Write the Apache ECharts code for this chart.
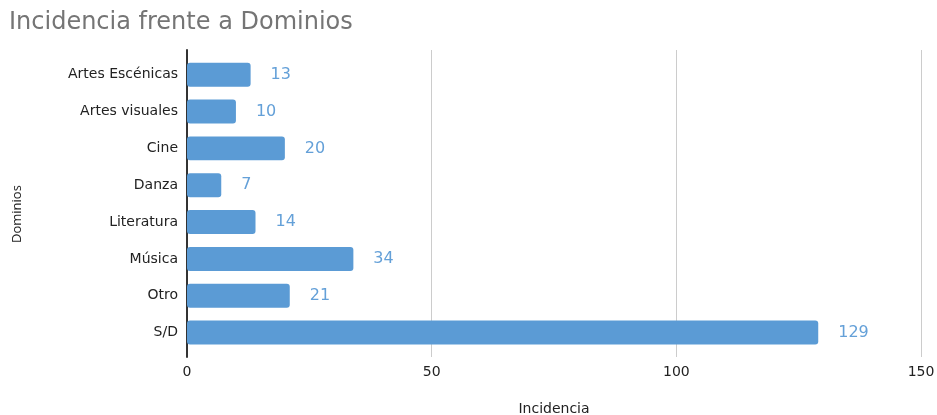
<!DOCTYPE html>
<html>
<head>
<meta charset="utf-8">
<script src="https://cdn.jsdelivr.net/npm/echarts@6/dist/echarts.min.js"></script>
<style>html,body{margin:0;padding:0;background:#fff}#c{width:937px;height:415px}</style>
</head>
<body>
<div id="c"></div>
<script>
const title = "Incidencia frente a Dominios";
const categories = ["Artes Escénicas", "Artes visuales", "Cine", "Danza", "Literatura", "Música", "Otro", "S/D"];
const values = [13, 10, 20, 7, 14, 34, 21, 129];
const xTicks = [0, 50, 100, 150];
const xName = "Incidencia";
const yName = "Dominios";

const FONT = "DejaVu Sans";
const chart = echarts.init(document.getElementById('c'));
chart.setOption({
  animation: false,
  title: {
    text: title, left: 4, top: 6,
    textStyle: { fontFamily: FONT, fontSize: 24, fontWeight: 'normal', color: '#757575' }
  },
  graphic: [{
    type: 'text',
    x: 11, y: 243, rotation: Math.PI / 2,
    style: { text: yName, font: '13px "Open Sans"', fill: '#222', textAlign: 'left', textVerticalAlign: 'top' }
  }],
  grid: [
    { left: 187, right: 16, top: 50, bottom: 58, outerBoundsMode: 'none', containLabel: false },
    { left: 187, right: 16, top: 56.3, bottom: 64, outerBoundsMode: 'none', containLabel: false }
  ],
  xAxis: [
    {
      gridIndex: 0, type: 'value', min: xTicks[0], max: xTicks[xTicks.length - 1], interval: 50,
      axisLine: { show: false }, axisTick: { show: false },
      axisLabel: { fontFamily: FONT, fontSize: 14, color: '#222', margin: 8 },
      splitLine: { lineStyle: { color: '#cccccc', width: 1 } },
      name: xName, nameLocation: 'middle', nameGap: 45,
      nameTextStyle: { fontFamily: FONT, fontSize: 14, color: '#222' }
    },
    {
      gridIndex: 1, type: 'value', min: xTicks[0], max: xTicks[xTicks.length - 1], interval: 50,
      show: false
    }
  ],
  yAxis: [
    {
      gridIndex: 0, type: 'category', data: categories, inverse: true,
      axisLine: { show: true, lineStyle: { color: '#333', width: 2 } },
      axisTick: { show: false }, axisLabel: { show: false }, splitLine: { show: false }
    },
    {
      gridIndex: 1, type: 'category', data: categories, inverse: true,
      axisLine: { show: false }, axisTick: { show: false },
      axisLabel: { fontFamily: FONT, fontSize: 14, color: '#222', margin: 9 }
    }
  ],
  series: [{
    type: 'bar', xAxisIndex: 1, yAxisIndex: 1, data: values,
    barCategoryGap: '35%',
    itemStyle: { color: '#5b9bd5', borderRadius: 3 },
    label: {
      show: true, position: 'right', distance: 20,
      fontFamily: FONT, fontSize: 16, color: '#64a0d8'
    }
  }]
});
</script>
</body>
</html>
